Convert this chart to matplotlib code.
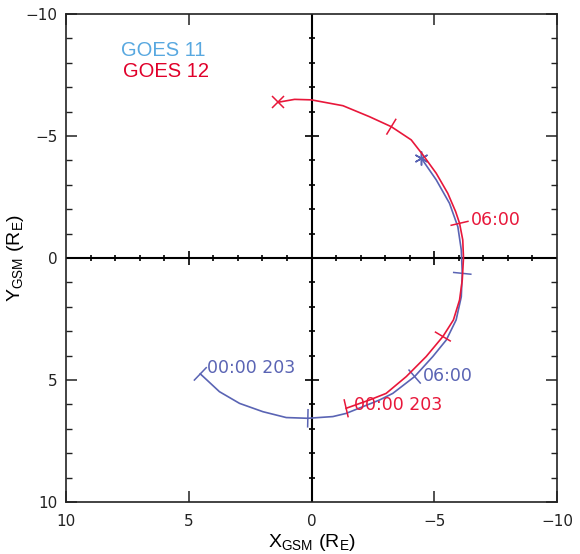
import numpy as np
import matplotlib.pyplot as plt

plt.rcParams['font.family'] = 'DejaVu Sans'
plt.rcParams['mathtext.fontset'] = 'custom'
plt.rcParams['mathtext.rm'] = 'Liberation Sans'

# orbit tracks (X_GSM, Y_GSM in Earth radii)
g11_x = [4.53, 3.75, 2.93, 1.98, 1.03, 0.15, -0.87, -1.41, -2.77, -3.31,
         -4.20, -4.94, -5.49, -5.89, -6.10, -6.14, -6.10, -5.96, -5.62,
         -5.08, -4.47]
g11_y = [4.75, 5.48, 5.96, 6.30, 6.54, 6.57, 6.50, 6.37, 5.82, 5.55,
         4.86, 4.04, 3.36, 2.54, 1.59, 0.63, -0.33, -1.28, -2.24,
         -3.20, -4.09]
g12_x = [-1.41, -2.36, -3.04, -3.86, -4.67, -5.35, -5.78, -6.03, -6.14, -6.19,
         -6.16, -6.03, -5.87, -5.55, -5.08, -4.54, -4.06, -3.25, -2.36, -1.28,
         0.01, 0.69, 1.37]
g12_y = [6.16, 5.82, 5.55, 4.86, 4.04, 3.22, 2.54, 1.72, 0.90, 0.00,
         -0.74, -1.42, -1.90, -2.65, -3.47, -4.22, -4.84, -5.38, -5.79, -6.24,
         -6.48, -6.50, -6.38]

# which points carry the 3-hour tick marks (00, 03, 06, 09 UT)
g11_ticks = [0, 5, 10, 15]
g12_ticks = [0, 5, 11, 17]
start_label = '00:00 203'
mid_label = '06:00'

blue = '#5a64b4'
red = '#e8173a'

fig = plt.figure(figsize=(5.8, 5.54), dpi=100)
ax = fig.add_axes([0.1138, 0.0939, 0.8466, 0.8809])
ax.set_xlim(10, -10)
ax.set_ylim(10, -10)

# axes through origin with unit ticks
ax.axhline(0, color='k', lw=1.5)
ax.axvline(0, color='k', lw=1.5)
units = np.arange(-9, 10)
minor = units[(units % 5) != 0]
major = units[((units % 5) == 0) & (units != 0)]
ax.plot(minor, np.zeros_like(minor), ls='none', marker='|', ms=5, mew=1.2, color='k')
ax.plot(major, np.zeros_like(major), ls='none', marker='|', ms=9.5, mew=1.2, color='k')
ax.plot(np.zeros_like(minor), minor, ls='none', marker='_', ms=5, mew=1.2, color='k')
ax.plot(np.zeros_like(major), major, ls='none', marker='_', ms=9.5, mew=1.2, color='k')


def draw_orbit(xs, ys, ticks, color, end_marker, end_size, lab_off, mid_off):
    xs = np.array(xs)
    ys = np.array(ys)
    ax.plot(xs, ys, color=color, lw=1.2)
    for i in ticks:
        r = np.hypot(xs[i], ys[i])
        ux, uy = xs[i] / r, ys[i] / r
        ax.plot([xs[i] - 0.35 * ux, xs[i] + 0.35 * ux],
                [ys[i] - 0.35 * uy, ys[i] + 0.35 * uy], color=color, lw=1.1)
    ax.plot(xs[-1], ys[-1], marker=end_marker, ms=end_size, mew=1.1,
            color=color, ls='none')
    ax.annotate(start_label, (xs[ticks[0]], ys[ticks[0]]), xytext=lab_off,
                textcoords='offset pixels', color=color, fontsize=12.5,
                va='center', ha='left')
    ax.annotate(mid_label, (xs[ticks[2]], ys[ticks[2]]), xytext=mid_off,
                textcoords='offset pixels', color=color, fontsize=12.5,
                va='center', ha='left')


draw_orbit(g11_x, g11_y, g11_ticks, blue, (6, 2, 0), 10, (7, 6), (8, 1))
draw_orbit(g12_x, g12_y, g12_ticks, red, 'x', 8, (8, 3), (11, 3))

ax.text(0.113, 0.925, 'GOES 11', transform=ax.transAxes, color='#58a8e0',
        fontsize=14.5, family='Liberation Sans', va='center')
ax.text(0.117, 0.882, 'GOES 12', transform=ax.transAxes, color='#e0002a',
        fontsize=14.5, family='Liberation Sans', va='center')

ax.set_xticks([10, 5, 0, -5, -10])
ax.set_yticks([-10, -5, 0, 5, 10])
ax.set_yticks(np.arange(-10, 11), minor=True)
ax.set_xticklabels(['10', '5', '0', '\u22125', '\u221210'])
ax.set_yticklabels(['\u221210', '\u22125', '0', '5', '10'])
ax.tick_params(which='both', direction='in', top=True, right=True,
               labelsize=11, colors='#222222')
ax.tick_params(which='major', length=8, width=1.1)
ax.tick_params(axis='x', which='major', pad=9)
ax.tick_params(axis='y', which='major', pad=6)
ax.tick_params(which='minor', length=4.3, width=1.0)
for s in ax.spines.values():
    s.set_linewidth(1.2)
    s.set_color('#222222')

ax.set_xlabel(r'X$_{\mathregular{GSM}}$ (R$_{\mathregular{E}}$)',
              family='Liberation Sans', fontsize=14)
ax.set_ylabel(r'Y$_{\mathregular{GSM}}$ (R$_{\mathregular{E}}$)',
              family='Liberation Sans', fontsize=14)
ax.xaxis.set_label_coords(0.5, -0.062)
ax.yaxis.set_label_coords(-0.082, 0.5)

fig.savefig('out.png', dpi=100, facecolor='white')
